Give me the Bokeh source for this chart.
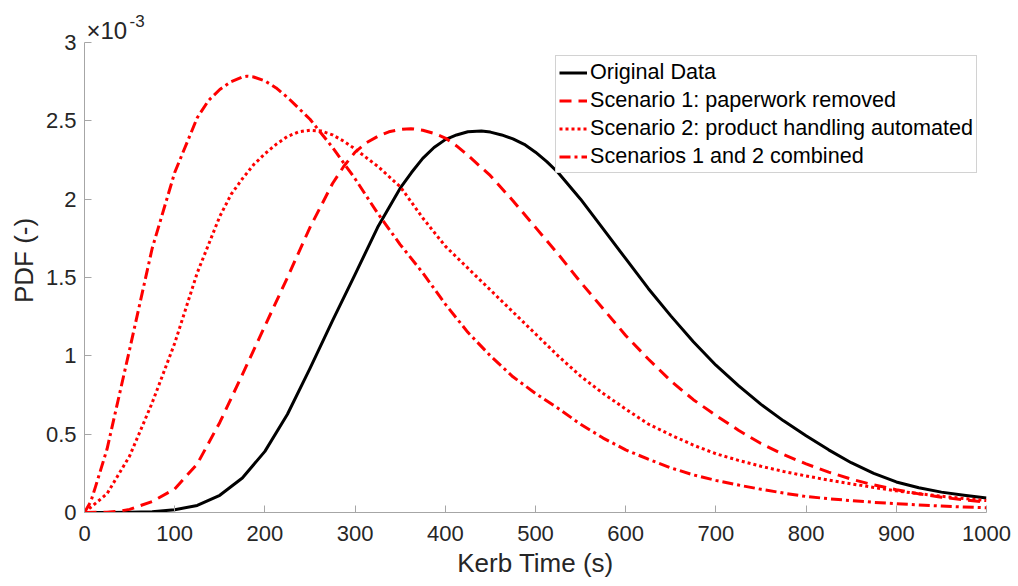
from bokeh.plotting import figure
from bokeh.models import Range1d, FixedTicker, Label, Legend, LegendItem
from bokeh.embed import file_html
from bokeh.resources import INLINE

# Kerb time (s) and PDF values (in units of 1e-3)
x_orig = [0, 25, 50, 75, 100, 125, 150, 175, 200, 225, 250, 275, 300, 325, 350, 362.5, 375, 387.5, 400, 412.5, 425,
          440, 450, 462.5, 475, 487.5, 500, 512.5, 525, 550, 575, 600, 625, 650, 675, 700, 725, 750, 775, 800, 825,
          850, 875, 900, 925, 950, 975, 1000]
pdf_orig = [0, 0, 0.001, 0.005, 0.018, 0.045, 0.11, 0.22, 0.39, 0.627, 0.92, 1.225, 1.52, 1.82, 2.07, 2.17, 2.26,
            2.33, 2.38, 2.41, 2.43, 2.435, 2.428, 2.41, 2.385, 2.35, 2.30, 2.24, 2.17, 2.00, 1.81, 1.62, 1.43, 1.255,
            1.09, 0.94, 0.81, 0.69, 0.585, 0.49, 0.40, 0.318, 0.25, 0.195, 0.158, 0.13, 0.11, 0.093]

x_s1 = [0, 25, 40, 50, 75, 100, 125, 150, 175, 200, 225, 250, 275, 287.5, 300, 312.5, 325, 337.5, 350, 362, 375,
        387.5, 400, 412.5, 425, 450, 475, 500, 525, 550, 575, 600, 625, 650, 675, 700, 725, 750, 775, 800, 825,
        850, 875, 900, 925, 950, 975, 1000]
pdf_s1 = [0, 0.002, 0.01, 0.02, 0.07, 0.15, 0.31, 0.575, 0.88, 1.19, 1.50, 1.82, 2.10, 2.21, 2.30, 2.36, 2.40, 2.43,
          2.445, 2.45, 2.44, 2.42, 2.39, 2.34, 2.28, 2.15, 1.99, 1.82, 1.65, 1.47, 1.30, 1.13, 0.98, 0.84, 0.72,
          0.62, 0.525, 0.44, 0.37, 0.31, 0.258, 0.213, 0.176, 0.145, 0.119, 0.098, 0.08, 0.066]

x_s2 = [0, 25, 50, 75, 100, 125, 150, 162.5, 175, 187.5, 200, 212.5, 225, 237.5, 250, 262.5, 275, 287.5, 300, 325,
        350, 375, 400, 425, 450, 475, 500, 525, 550, 575, 600, 625, 650, 675, 700, 725, 750, 775, 800, 825, 850,
        875, 900, 925, 950, 975, 1000]
pdf_s2 = [0, 0.12, 0.36, 0.70, 1.08, 1.53, 1.89, 2.03, 2.13, 2.22, 2.29, 2.35, 2.40, 2.43, 2.44, 2.435, 2.41, 2.37,
          2.32, 2.21, 2.08, 1.88, 1.70, 1.56, 1.42, 1.28, 1.14, 1.00, 0.87, 0.76, 0.66, 0.565, 0.495, 0.43, 0.375,
          0.333, 0.295, 0.262, 0.233, 0.207, 0.183, 0.16, 0.138, 0.12, 0.104, 0.089, 0.076]

x_s12 = [0, 7, 12.5, 25, 50, 75, 100, 125, 137.5, 150, 162.5, 175, 180, 187.5, 200, 212.5, 225, 237.5, 250, 275, 300,
         325, 350, 375, 400, 425, 450, 475, 500, 525, 550, 575, 600, 625, 650, 675, 700, 725, 750, 775, 800, 825,
         850, 875, 900, 925, 950, 975, 1000]
pdf_s12 = [0, 0.07, 0.17, 0.405, 1.04, 1.685, 2.17, 2.52, 2.63, 2.70, 2.75, 2.78, 2.785, 2.78, 2.755, 2.71, 2.65,
           2.58, 2.51, 2.33, 2.13, 1.91, 1.71, 1.53, 1.33, 1.15, 1.00, 0.866, 0.76, 0.665, 0.563, 0.475, 0.40, 0.34,
           0.285, 0.24, 0.205, 0.175, 0.148, 0.124, 0.102, 0.088, 0.076, 0.065, 0.056, 0.048, 0.041, 0.035, 0.03]

series_labels = ["Original Data", "Scenario 1: paperwork removed",
                 "Scenario 2: product handling automated", "Scenarios 1 and 2 combined"]
x_ticks = [0, 100, 200, 300, 400, 500, 600, 700, 800, 900, 1000]
y_ticks = [0, 0.5, 1, 1.5, 2, 2.5, 3]
y_tick_labels = ["0", "0.5", "1", "1.5", "2", "2.5", "3"]
y_axis_max = 3
exponent_text = "-3"

FONT = "Liberation Sans"
AX = "#a6a6a6"
TXT = "#262626"

p = figure(width=1016, height=584, output_backend="svg", toolbar_location=None,
           x_range=Range1d(0, 1000), y_range=Range1d(0, 3.217),
           min_border_left=84, min_border_top=8, min_border_right=30, min_border_bottom=72)
p.outline_line_color = None
p.grid.visible = False
p.background_fill_color = "white"
p.border_fill_color = "white"

common = dict(line_width=3, line_join="round")
r0 = p.line(x_orig, pdf_orig, line_color="black", **common)
r1 = p.line(x_s1, pdf_s1, line_color="#ff0000", line_dash="12 7", **common)
r2 = p.line(x_s2, pdf_s2, line_color="#ff0000", line_dash="3 3", **common)
r3 = p.line(x_s12, pdf_s12, line_color="#ff0000", line_dash="11 4 3 4", **common)

for ax in (p.xaxis[0], p.yaxis[0]):
    ax.axis_line_color = AX
    ax.major_tick_line_color = AX
    ax.minor_tick_line_color = None
    ax.major_tick_in = 7
    ax.major_tick_out = 0
    ax.major_label_text_font = FONT
    ax.major_label_text_font_size = "22px"
    ax.major_label_text_color = TXT
    ax.axis_label_text_font = FONT
    ax.axis_label_text_font_size = "26px"
    ax.axis_label_text_color = TXT
    ax.axis_label_text_font_style = "normal"

p.yaxis.bounds = (0, y_axis_max)
p.xaxis.ticker = FixedTicker(ticks=x_ticks)
p.yaxis.ticker = FixedTicker(ticks=y_ticks)
p.yaxis.major_label_overrides = {t: l for t, l in zip(y_ticks, y_tick_labels)}
p.xaxis.axis_label = "Kerb Time (s)"
p.yaxis.axis_label = "PDF (-)"
p.xaxis.major_label_standoff = 13
p.yaxis.major_label_standoff = 8
p.xaxis.axis_label_standoff = 4
p.yaxis.axis_label_standoff = 4

p.add_layout(Label(x=0, y=y_axis_max, x_offset=2, y_offset=12, text="\u00d710", text_font=FONT,
                   text_font_size="24px", text_color=TXT, text_baseline="alphabetic"))
p.add_layout(Label(x=0, y=y_axis_max, x_offset=45, y_offset=21, text=exponent_text, text_font=FONT,
                   text_font_size="17px", text_color=TXT, text_baseline="alphabetic"))

legend = Legend(items=[LegendItem(label=l, renderers=[r]) for l, r in zip(series_labels, [r0, r1, r2, r3])])
legend.location = (471, 339)
legend.label_text_font = FONT
legend.label_text_font_size = "21.6px"
legend.label_text_color = "black"
legend.glyph_width = 28
legend.glyph_height = 25
legend.label_height = 25
legend.label_standoff = 3
legend.spacing = 2
legend.padding = 3
legend.margin = 0
legend.border_line_color = AX
legend.border_line_width = 1
legend.background_fill_alpha = 1
p.add_layout(legend)

open("out.html", "w").write(file_html(p, INLINE))
